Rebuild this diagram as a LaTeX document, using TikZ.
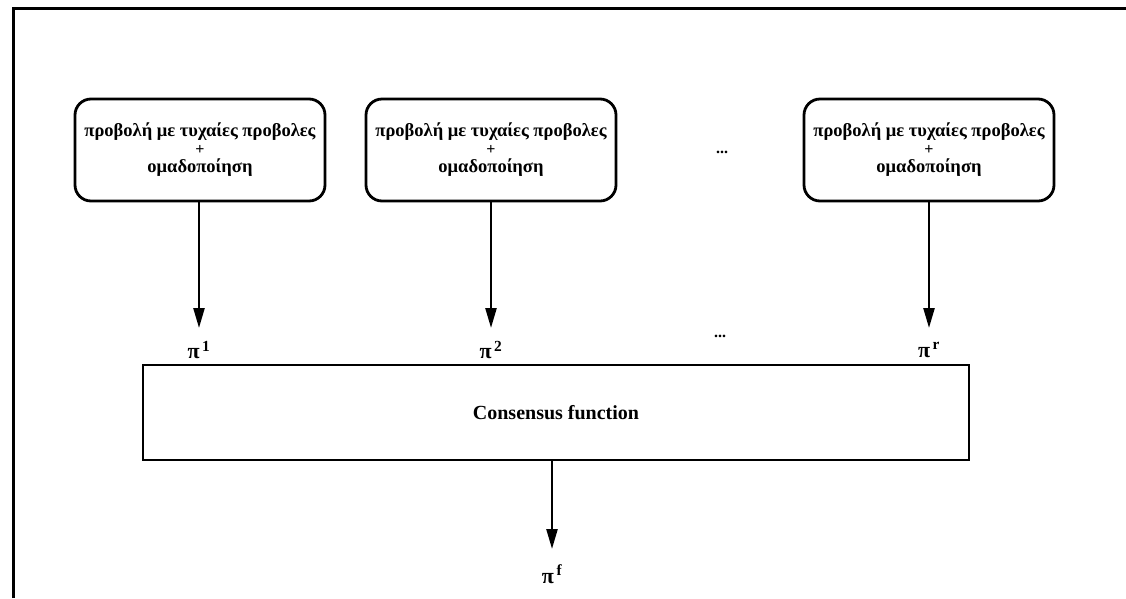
\documentclass[tikz,border=0pt]{standalone}
\usepackage{fontspec}
\setmainfont{Liberation Serif}
\usetikzlibrary{arrows.meta}
\newcommand{\smallplus}{{\fontsize{16}{18}\selectfont +}}
\begin{document}
\begin{tikzpicture}[x=1pt,y=-1pt,
  frameline/.style={line width=3pt},
  procbox/.style={draw,line width=2.8pt,rounded corners=16pt,minimum width=250pt,minimum height=102pt,align=center,font=\fontsize{18.5}{18}\selectfont\bfseries},
  consbox/.style={draw,line width=2.8pt,minimum width=826pt,minimum height=95pt,font=\fontsize{20}{24}\selectfont\bfseries},
  lbl/.style={inner sep=1pt,font=\fontsize{22}{26}\selectfont\bfseries},
  dotslbl/.style={inner sep=0pt,font=\fontsize{16}{20}\selectfont\bfseries},
  arr/.style={line width=2.4pt,-{Triangle[length=20pt,width=11pt]}}]
\useasboundingbox (0,0) rectangle (1126,598);
% frame (cropped scan)
\coordinate (ftl) at (13,8);
\coordinate (ftr) at (1126,8);
\coordinate (fbl) at (13,598);
\draw[frameline] (fbl) -- (ftl) -- (ftr);
% process boxes
\node[procbox] (b1) at (200,150) {προβολή με τυχαίες προβολες\\\smallplus\\ομαδοποίηση};
\node[procbox] (b2) at (491,150) {προβολή με τυχαίες προβολες\\\smallplus\\ομαδοποίηση};
\node[procbox] (b3) at (929,150) {προβολή με τυχαίες προβολες\\\smallplus\\ομαδοποίηση};
\node[dotslbl] (d1) at (722,152) {...};
% labels
\node[lbl] (p1) at (199,350) {π\textsuperscript{\,1}};
\node[lbl] (p2) at (491,350) {π\textsuperscript{\,2}};
\node[lbl] (p3) at (929,350) {π\textsuperscript{\,r}};
\node[dotslbl] (d2) at (720,336) {...};
% consensus
\node[consbox] (cons) at (556,412.5) {Consensus function};
\node[lbl] (pf) at (552,574) {π\textsuperscript{\,f}};
% arrows
\draw[arr] (b1.south -| p1) -- ([yshift=22pt]p1.center);
\draw[arr] (b2.south -| p2) -- ([yshift=22pt]p2.center);
\draw[arr] (b3.south -| p3) -- ([yshift=22pt]p3.center);
\draw[arr] (cons.south -| pf) -- ([yshift=25pt]pf.center);
\end{tikzpicture}
\end{document}
